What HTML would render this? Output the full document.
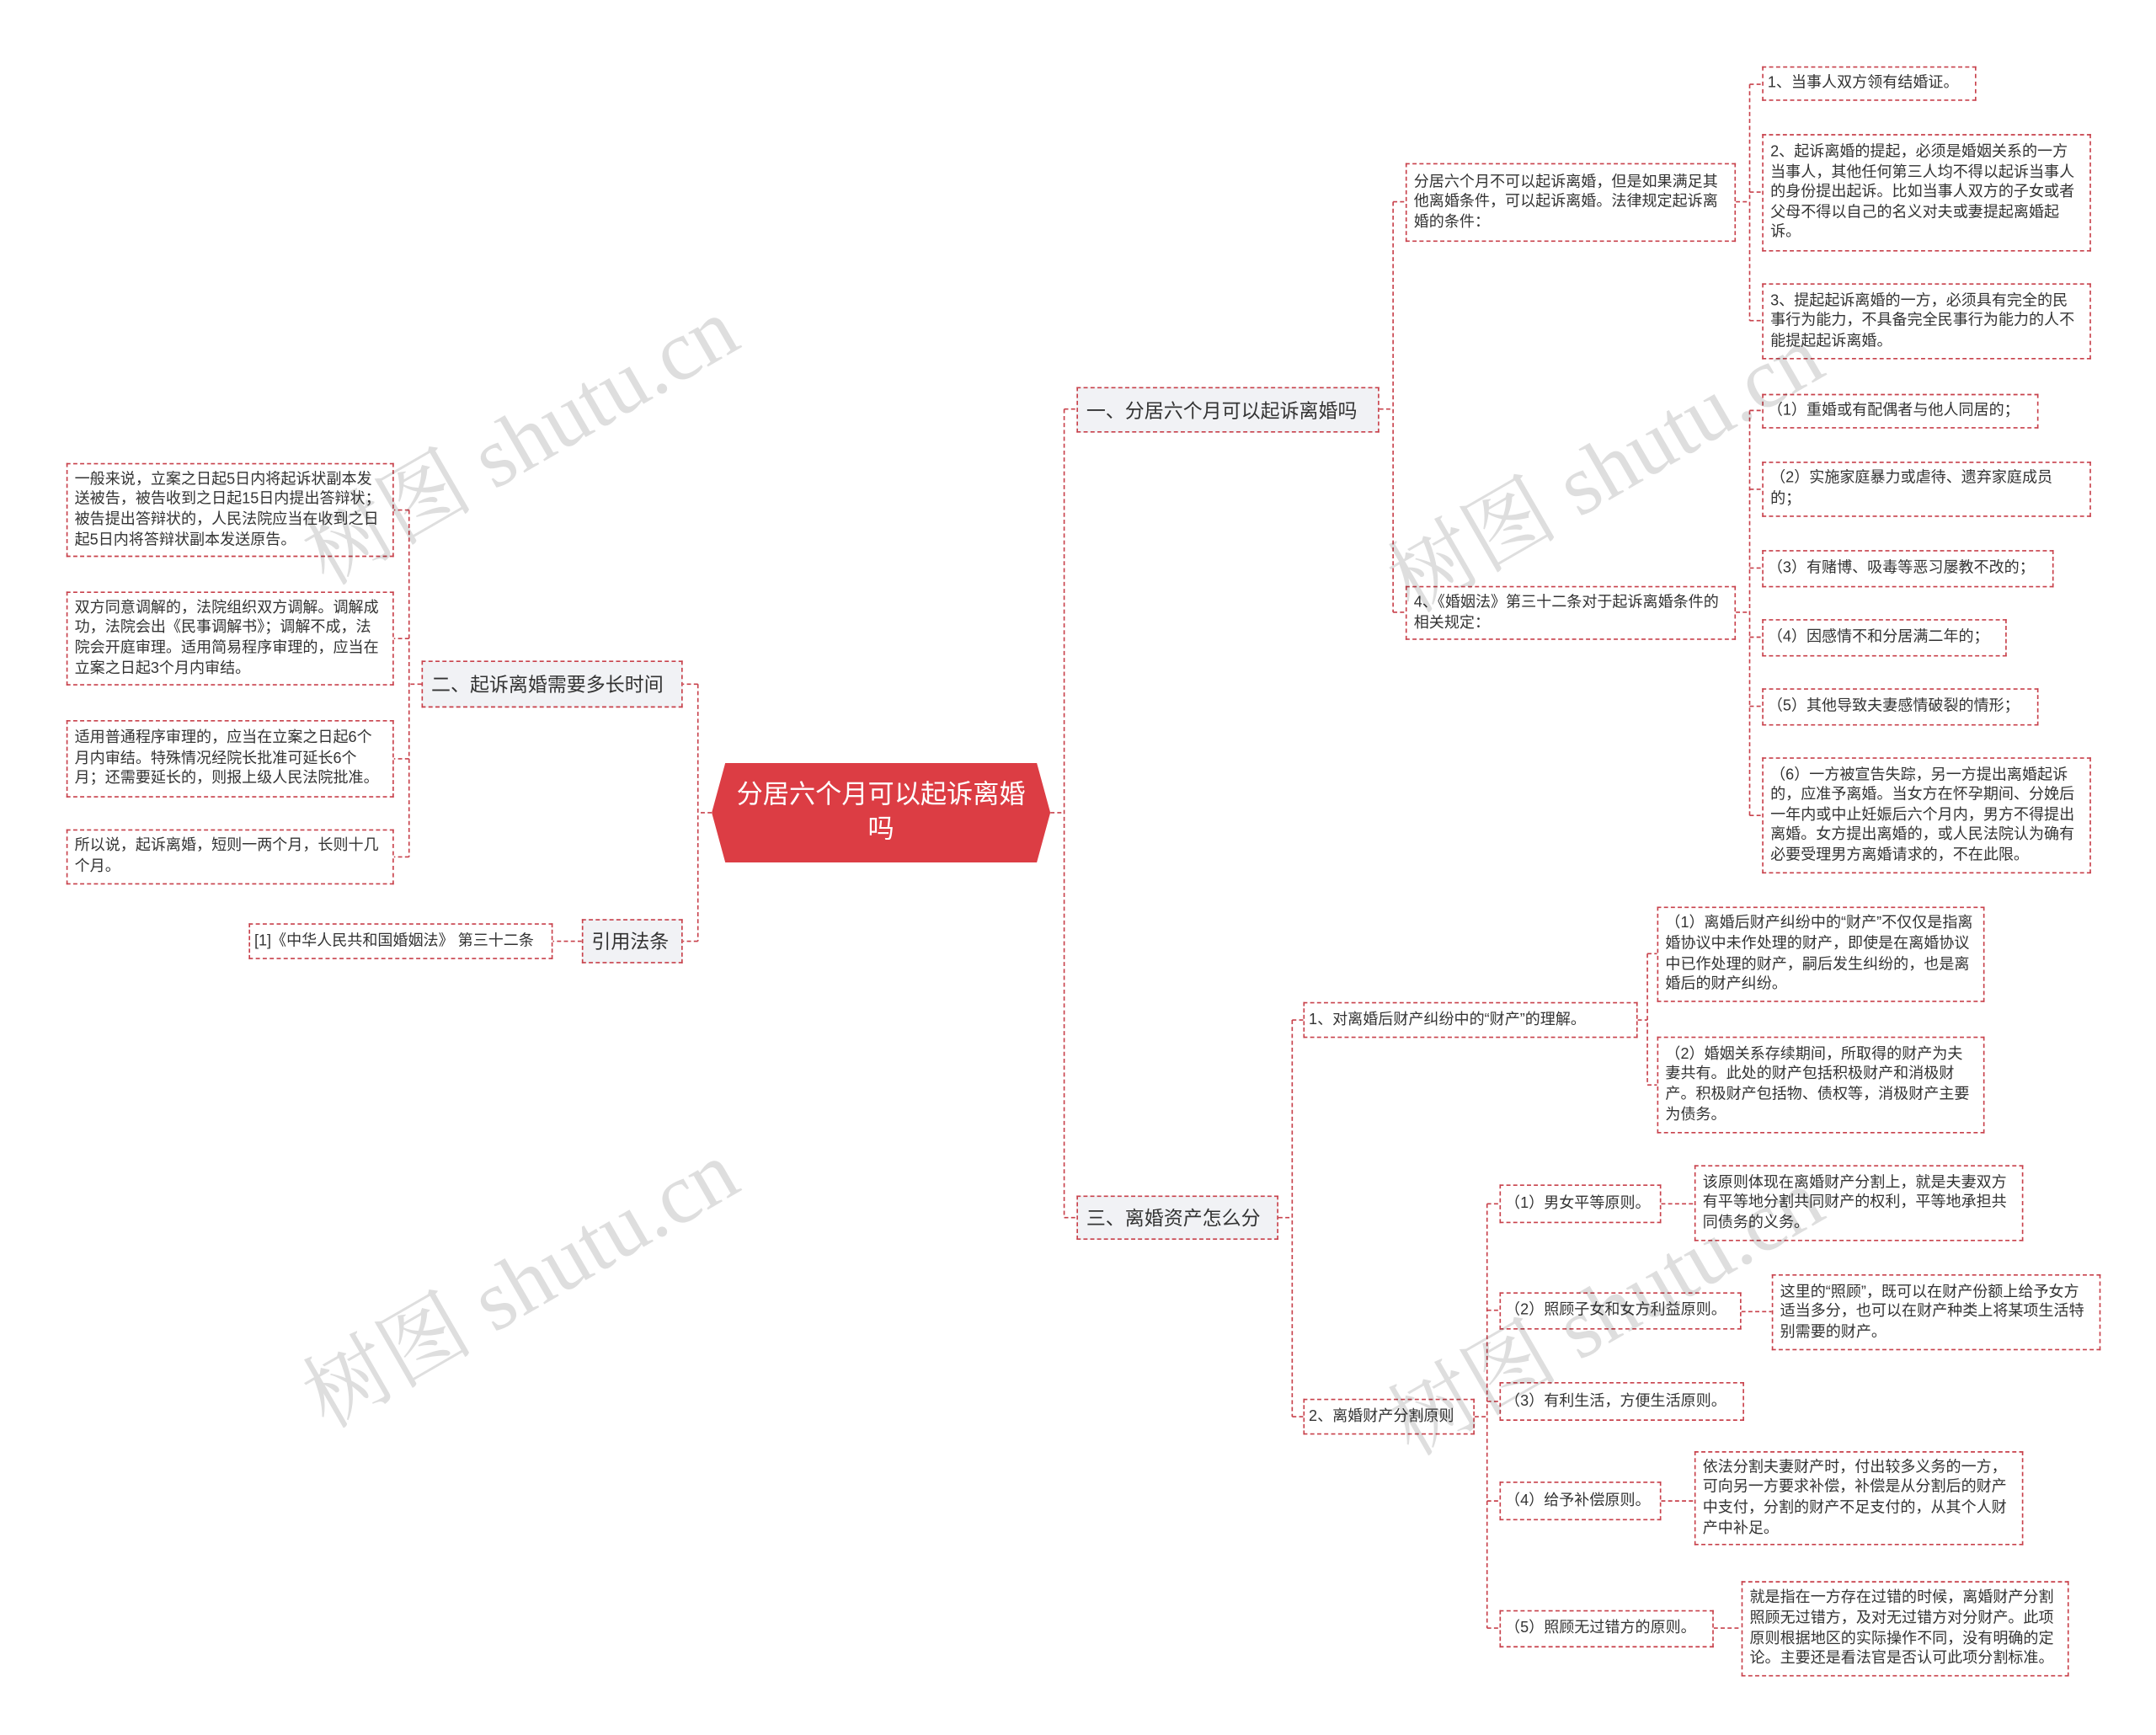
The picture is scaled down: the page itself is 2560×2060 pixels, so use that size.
<!DOCTYPE html>
<html><head><meta charset="utf-8">
<style>
html,body{margin:0;padding:0;background:#fff;width:2560px;height:2060px;overflow:hidden}
#w{position:absolute;left:0;top:0;width:1560px;height:1255px;transform:scale(1.641);transform-origin:0 0;font-family:"Liberation Sans","Noto Sans CJK SC",sans-serif;color:#333}
.b{position:absolute;box-sizing:border-box;border:1px dashed #c8414b;background:#fff;font-size:11px;line-height:14.6px;padding:4px 5px;display:flex;align-items:center;word-break:break-all}
.n{white-space:nowrap;padding:4px 3px}
.br{background:#f1f2f5;font-size:14px;line-height:18px;padding:4px 6px;white-space:nowrap}
.root{position:absolute;left:515px;top:552px;width:245px;height:72px;background:#dc3d44;color:#fff;font-size:19px;line-height:25px;text-align:center;display:flex;align-items:center;justify-content:center;clip-path:polygon(4% 0,96% 0,100% 50%,96% 100%,4% 100%,0 50%);padding:0 14px;box-sizing:border-box}
.wm{position:absolute;font-family:"Liberation Serif","Noto Serif CJK SC",serif;font-size:62px;color:rgba(0,0,0,0.13);transform:rotate(-30deg);white-space:nowrap;transform-origin:center}
svg{position:absolute;left:0;top:0}
</style></head><body><div id="w">
<svg width="1560" height="1255"><g fill="none" stroke="#c8414b" stroke-width="1" stroke-dasharray="3 2">
<path d="M760,588H770M770,296V881M770,296H779M770,881H779"/>
<path d="M515,588H505M505,495V681M505,495H494M505,681H494"/>
<path d="M998,296H1008M1008,146V443M1008,146H1017M1008,443H1017"/>
<path d="M1256,146H1266M1266,61V232M1266,61H1275M1266,139H1275M1266,232H1275"/>
<path d="M1256,443H1266M1266,297V590M1266,297H1275M1266,354H1275M1266,411H1275M1266,461H1275M1266,511H1275M1266,590H1275"/>
<path d="M925,881H935M935,738V1025M935,738H943M935,1025H943"/>
<path d="M1185,738H1192M1192,690V785M1192,690H1199M1192,785H1199"/>
<path d="M1067,1025H1076M1076,871V1178M1076,871H1085M1076,948H1085M1076,1014H1085M1076,1086H1085M1076,1178H1085"/>
<path d="M1202,871H1226M1260,949H1282M1202,1086H1226M1240,1178H1260"/>
<path d="M305,495H296M296,369V620M296,369H285M296,462H285M296,549H285M296,620H285"/>
<path d="M421,681H400"/>
</g></svg>

<div class="root">分居六个月可以起诉离婚吗</div>

<div class="b br" style="left:779px;top:280px;width:219px;height:33px">一、分居六个月可以起诉离婚吗</div>
<div class="b" style="left:1017px;top:118px;width:239px;height:57px">分居六个月不可以起诉离婚，但是如果满足其他离婚条件，可以起诉离婚。法律规定起诉离婚的条件：</div>
<div class="b" style="left:1017px;top:424px;width:239px;height:39px">4、《婚姻法》第三十二条对于起诉离婚条件的相关规定：</div>
<div class="b n" style="left:1275px;top:48px;width:155px;height:25px">1、当事人双方领有结婚证。</div>
<div class="b" style="left:1275px;top:97px;width:238px;height:85px">2、起诉离婚的提起，必须是婚姻关系的一方当事人，其他任何第三人均不得以起诉当事人的身份提出起诉。比如当事人双方的子女或者父母不得以自己的名义对夫或妻提起离婚起诉。</div>
<div class="b" style="left:1275px;top:205px;width:238px;height:55px">3、提起起诉离婚的一方，必须具有完全的民事行为能力，不具备完全民事行为能力的人不能提起起诉离婚。</div>
<div class="b n" style="left:1275px;top:285px;width:200px;height:25px">（1）重婚或有配偶者与他人同居的；</div>
<div class="b" style="left:1275px;top:334px;width:238px;height:40px">（2）实施家庭暴力或虐待、遗弃家庭成员的；</div>
<div class="b n" style="left:1275px;top:398px;width:211px;height:27px">（3）有赌博、吸毒等恶习屡教不改的；</div>
<div class="b n" style="left:1275px;top:448px;width:177px;height:27px">（4）因感情不和分居满二年的；</div>
<div class="b n" style="left:1275px;top:498px;width:200px;height:27px">（5）其他导致夫妻感情破裂的情形；</div>
<div class="b" style="left:1275px;top:548px;width:238px;height:84px">（6）一方被宣告失踪，另一方提出离婚起诉的，应准予离婚。当女方在怀孕期间、分娩后一年内或中止妊娠后六个月内，男方不得提出离婚。女方提出离婚的，或人民法院认为确有必要受理男方离婚请求的，不在此限。</div>

<div class="b br" style="left:779px;top:865px;width:146px;height:32px">三、离婚资产怎么分</div>
<div class="b n" style="left:943px;top:725px;width:242px;height:26px">1、对离婚后财产纠纷中的“财产”的理解。</div>
<div class="b n" style="left:943px;top:1012px;width:124px;height:26px">2、离婚财产分割原则</div>
<div class="b" style="left:1199px;top:656px;width:237px;height:69px">（1）离婚后财产纠纷中的“财产”不仅仅是指离婚协议中未作处理的财产，即使是在离婚协议中已作处理的财产，嗣后发生纠纷的，也是离婚后的财产纠纷。</div>
<div class="b" style="left:1199px;top:750px;width:237px;height:70px">（2）婚姻关系存续期间，所取得的财产为夫妻共有。此处的财产包括积极财产和消极财产。积极财产包括物、债权等，消极财产主要为债务。</div>
<div class="b n" style="left:1085px;top:857px;width:117px;height:28px">（1）男女平等原则。</div>
<div class="b n" style="left:1085px;top:935px;width:175px;height:27px">（2）照顾子女和女方利益原则。</div>
<div class="b n" style="left:1085px;top:1000px;width:177px;height:28px">（3）有利生活，方便生活原则。</div>
<div class="b n" style="left:1085px;top:1072px;width:117px;height:28px">（4）给予补偿原则。</div>
<div class="b n" style="left:1085px;top:1165px;width:155px;height:27px">（5）照顾无过错方的原则。</div>
<div class="b" style="left:1226px;top:843px;width:238px;height:55px">该原则体现在离婚财产分割上，就是夫妻双方有平等地分割共同财产的权利，平等地承担共同债务的义务。</div>
<div class="b" style="left:1282px;top:922px;width:238px;height:55px">这里的“照顾”，既可以在财产份额上给予女方适当多分，也可以在财产种类上将某项生活特别需要的财产。</div>
<div class="b" style="left:1226px;top:1050px;width:238px;height:68px">依法分割夫妻财产时，付出较多义务的一方，可向另一方要求补偿，补偿是从分割后的财产中支付，分割的财产不足支付的，从其个人财产中补足。</div>
<div class="b" style="left:1260px;top:1144px;width:237px;height:69px">就是指在一方存在过错的时候，离婚财产分割照顾无过错方，及对无过错方对分财产。此项原则根据地区的实际操作不同，没有明确的定论。主要还是看法官是否认可此项分割标准。</div>

<div class="b br" style="left:305px;top:478px;width:189px;height:34px">二、起诉离婚需要多长时间</div>
<div class="b" style="left:48px;top:335px;width:237px;height:68px">一般来说，立案之日起5日内将起诉状副本发送被告，被告收到之日起15日内提出答辩状；被告提出答辩状的，人民法院应当在收到之日起5日内将答辩状副本发送原告。</div>
<div class="b" style="left:48px;top:428px;width:237px;height:68px">双方同意调解的，法院组织双方调解。调解成功，法院会出《民事调解书》；调解不成，法院会开庭审理。适用简易程序审理的，应当在立案之日起3个月内审结。</div>
<div class="b" style="left:48px;top:521px;width:237px;height:56px">适用普通程序审理的，应当在立案之日起6个月内审结。特殊情况经院长批准可延长6个月；还需要延长的，则报上级人民法院批准。</div>
<div class="b" style="left:48px;top:600px;width:237px;height:40px">所以说，起诉离婚，短则一两个月，长则十几个月。</div>
<div class="b br" style="left:421px;top:665px;width:73px;height:32px">引用法条</div>
<div class="b n" style="left:180px;top:668px;width:220px;height:26px">[1]《中华人民共和国婚姻法》 第三十二条</div>

<div class="wm" style="left:200px;top:270px">树图 shutu.cn</div>
<div class="wm" style="left:200px;top:880px">树图 shutu.cn</div>
<div class="wm" style="left:985px;top:290px">树图 shutu.cn</div>
<div class="wm" style="left:985px;top:900px">树图 shutu.cn</div>
</div></body></html>
